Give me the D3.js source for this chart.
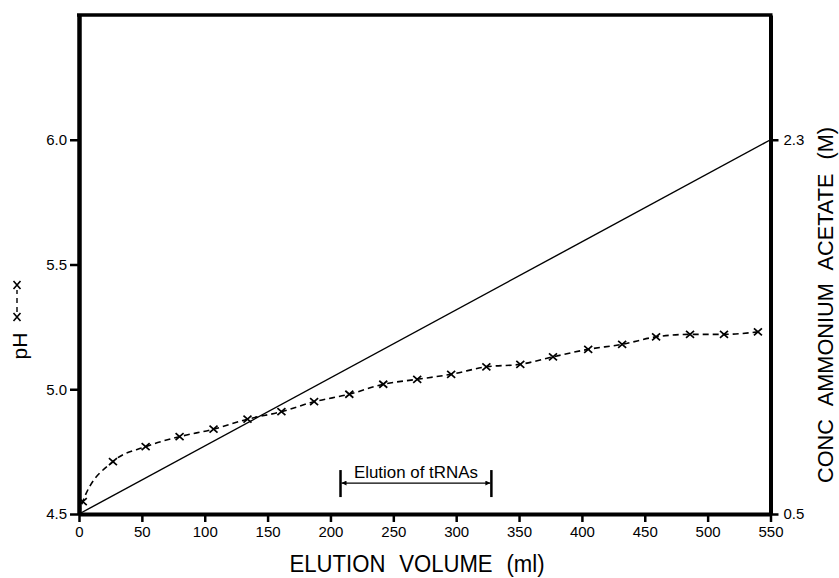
<!DOCTYPE html>
<html>
<head>
<meta charset="utf-8">
<script src="https://cdn.jsdelivr.net/npm/d3@7"></script>
<style>
  html, body { margin: 0; padding: 0; background: #fff; }
  svg { display: block; font-family: "Liberation Sans", Arial, Helvetica, sans-serif; }
</style>
</head>
<body>
<svg id="chart" width="839" height="578"></svg>
<script>
// Elution volume (ml) at each pH reading
const volume = [3, 27, 53, 80, 107, 134, 161, 187, 215, 242, 269, 296, 324, 351, 377, 405, 432, 459, 486, 513, 540];
// pH of the eluate
const pH = [4.55, 4.71, 4.77, 4.81, 4.84, 4.88, 4.91, 4.95, 4.98, 5.02, 5.04, 5.06, 5.09, 5.10, 5.13, 5.16, 5.18, 5.21, 5.22, 5.22, 5.23];
// Starting buffer: the pH curve begins at the origin (no reading marked there)
const startVolume = 0;
const startPH = 4.5;
// Linear ammonium acetate gradient (M)
const concVolume = [0, 550];
const concValue = [0.5, 2.3];
// Axis ticks
const xTicks = [0, 50, 100, 150, 200, 250, 300, 350, 400, 450, 500, 550];
const pHTicks = [4.5, 5.0, 5.5, 6.0];
const concTicks = [0.5, 2.3];
// Volume range over which the tRNAs come off
const tRNARange = [208, 328];

const svg = d3.select("#chart");
const plotLeft = 79, plotRight = 770.5, plotTop = 15, plotBottom = 514;

const x = d3.scaleLinear().domain([0, 550]).range([plotLeft, plotRight]);
const yPH = d3.scaleLinear().domain([4.5, 6.5]).range([plotBottom, plotTop]);
const yConc = d3.scaleLinear().domain([0.5, 2.9]).range([plotBottom, plotTop]);

// Frame top edge
svg.append("line")
  .attr("x1", plotLeft - 2).attr("x2", plotRight + 2)
  .attr("y1", plotTop).attr("y2", plotTop)
  .attr("stroke", "#000").attr("stroke-width", 3.5);

function styleAxis(g, width) {
  g.attr("font-size", null).attr("font-family", null);
  g.select(".domain").attr("stroke", "#000").attr("stroke-width", width);
  g.selectAll(".tick line").attr("stroke", "#000").attr("stroke-width", 2.5);
  g.selectAll(".tick text").attr("fill", "#000")
    .style("font-size", "15px")
    .style("font-family", "'Liberation Sans', Arial, sans-serif");
}

// Bottom axis
const gx = svg.append("g")
  .attr("transform", `translate(0,${plotBottom})`)
  .call(d3.axisBottom(x).tickValues(xTicks).tickSize(8).tickSizeOuter(0).tickPadding(4).tickFormat(d3.format("d")));
styleAxis(gx, 4);

// Left axis (pH)
const gl = svg.append("g")
  .attr("transform", `translate(${plotLeft},0)`)
  .call(d3.axisLeft(yPH).tickValues(pHTicks).tickSize(9).tickSizeOuter(0).tickPadding(3).tickFormat(d3.format(".1f")));
styleAxis(gl, 4.5);

// Right axis (concentration)
const gr = svg.append("g")
  .attr("transform", `translate(${plotRight},0)`)
  .call(d3.axisRight(yConc).tickValues(concTicks).tickSize(8).tickSizeOuter(0).tickPadding(5).tickFormat(d3.format(".1f")));
styleAxis(gr, 4);

// Salt gradient line
const concLine = d3.line()
  .x((d, i) => x(concVolume[i]))
  .y(d => yConc(d));
svg.append("path")
  .datum(concValue)
  .attr("d", concLine)
  .attr("fill", "none")
  .attr("stroke", "#000")
  .attr("stroke-width", 1.4);

// pH curve, dashed and smoothed, starting from the origin
const curveVol = [startVolume, ...volume];
const curvePH = [startPH, ...pH];
const pHLine = d3.line()
  .x((d, i) => x(curveVol[i]))
  .y(d => yPH(d))
  .curve(d3.curveMonotoneX);
svg.append("path")
  .datum(curvePH)
  .attr("d", pHLine)
  .attr("fill", "none")
  .attr("stroke", "#000")
  .attr("stroke-width", 1.6)
  .attr("stroke-dasharray", "6,4");

// Cross markers
const crossPath = "M-4,-3.5L4,3.5M-4,3.5L4,-3.5";
svg.append("g").selectAll("path")
  .data(pH)
  .join("path")
  .attr("transform", (d, i) => `translate(${x(volume[i])},${yPH(d)})`)
  .attr("d", crossPath)
  .attr("stroke", "#000")
  .attr("stroke-width", 1.7)
  .attr("fill", "none");

// Elution window bracket
const defs = svg.append("defs");
defs.append("marker")
  .attr("id", "arrow")
  .attr("viewBox", "0 0 10 10")
  .attr("refX", 10).attr("refY", 5)
  .attr("markerWidth", 7).attr("markerHeight", 5)
  .attr("markerUnits", "userSpaceOnUse")
  .attr("orient", "auto-start-reverse")
  .append("path")
  .attr("d", "M0,0L10,5L0,10Z")
  .attr("fill", "#000");

const ay = yPH(4.624);
const ax0 = x(tRNARange[0]), ax1 = x(tRNARange[1]);
const bracket = svg.append("g");
bracket.append("line")
  .attr("x1", ax0 + 1).attr("x2", ax1 - 1)
  .attr("y1", ay).attr("y2", ay)
  .attr("stroke", "#000").attr("stroke-width", 1.2)
  .attr("marker-start", "url(#arrow)")
  .attr("marker-end", "url(#arrow)");
[ax0, ax1].forEach(px => {
  bracket.append("line")
    .attr("x1", px).attr("x2", px)
    .attr("y1", ay - 13).attr("y2", ay + 14)
    .attr("stroke", "#000").attr("stroke-width", 2.5);
});
bracket.append("text")
  .attr("x", (ax0 + ax1) / 2)
  .attr("y", ay - 5)
  .attr("text-anchor", "middle")
  .attr("font-size", 17)
  .attr("textLength", 124)
  .attr("lengthAdjust", "spacingAndGlyphs")
  .text("Elution of tRNAs");

// Axis titles
svg.append("text")
  .attr("x", 417).attr("y", 572)
  .attr("text-anchor", "middle")
  .attr("font-size", 23)
  .attr("textLength", 255)
  .attr("lengthAdjust", "spacingAndGlyphs")
  .attr("word-spacing", 8)
  .text("ELUTION VOLUME (ml)");

svg.append("text")
  .attr("transform", "translate(833,305) rotate(-90)")
  .attr("text-anchor", "middle")
  .attr("font-size", 22)
  .attr("textLength", 356)
  .attr("lengthAdjust", "spacingAndGlyphs")
  .attr("word-spacing", 8)
  .text("CONC AMMONIUM ACETATE (M)");

svg.append("text")
  .attr("transform", "translate(27,346) rotate(-90)")
  .attr("text-anchor", "middle")
  .attr("font-size", 21)
  .text("pH");

// Key for the pH curve: x--x
const keyX = 17, keyY0 = 317, keyY1 = 285;
svg.append("line")
  .attr("x1", keyX).attr("x2", keyX)
  .attr("y1", keyY0 - 5).attr("y2", keyY1 + 5)
  .attr("stroke", "#000").attr("stroke-width", 1.4)
  .attr("stroke-dasharray", "5,4");
[keyY0, keyY1].forEach(yy => {
  svg.append("path")
    .attr("transform", `translate(${keyX},${yy}) rotate(90)`)
    .attr("d", crossPath)
    .attr("stroke", "#000").attr("stroke-width", 1.6).attr("fill", "none");
});
</script>
</body>
</html>
